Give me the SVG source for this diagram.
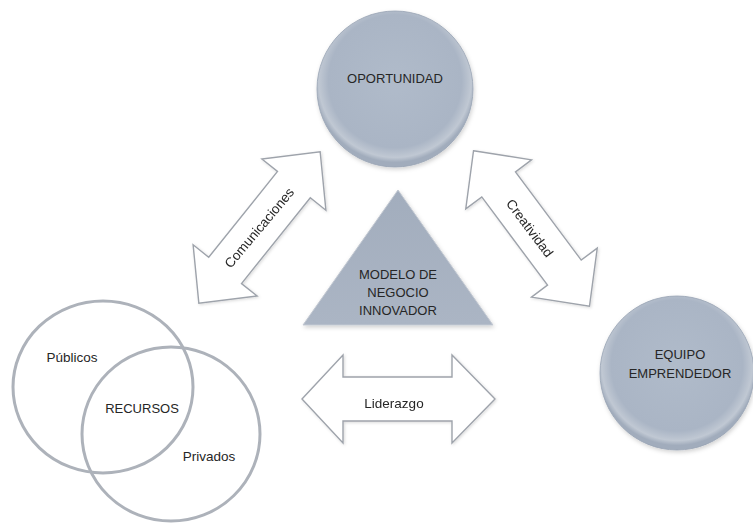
<svg xmlns="http://www.w3.org/2000/svg" width="753" height="523" viewBox="0 0 753 523">
<defs>
<radialGradient id="ball" cx="50%" cy="45%" r="52%">
<stop offset="0%" stop-color="#b0bbca"/>
<stop offset="82%" stop-color="#aab5c5"/>
<stop offset="94%" stop-color="#c0c8d3"/>
<stop offset="100%" stop-color="#a1acbc"/>
</radialGradient>
<linearGradient id="tri" x1="0" y1="0" x2="0" y2="1">
<stop offset="0%" stop-color="#a2adbd"/>
<stop offset="100%" stop-color="#abb5c4"/>
</linearGradient>
<filter id="sh" x="-20%" y="-20%" width="140%" height="140%">
<feDropShadow dx="1" dy="2" stdDeviation="2" flood-color="#000" flood-opacity="0.18"/>
</filter>
<filter id="ash" x="-20%" y="-20%" width="140%" height="140%">
<feDropShadow dx="1" dy="1" stdDeviation="1.5" flood-color="#000" flood-opacity="0.15"/>
</filter>
<polygon id="dblarrow" points="-97,0 -55,-41 -55,-21 55,-21 55,-41 97,0 55,41 55,21 -55,21 -55,41"/>
</defs>
<style>
.t{font-family:"Liberation Sans",Arial,sans-serif;fill:#262626;text-anchor:middle}
.caps{font-size:13px}
.low{font-size:13.5px}
.arrow{fill:#ffffff;stroke:#9ea3ab;stroke-width:1.4;stroke-linejoin:miter}
.ring{fill:none;stroke:#adb2ba;stroke-width:3}
.ball{fill:url(#ball);stroke:#98a3b4;stroke-width:0.8}
</style>
<rect width="753" height="523" fill="#ffffff"/>

<g id="connectors">
<g id="comunicaciones" filter="url(#ash)">
<use href="#dblarrow" class="arrow" transform="translate(259.5,227.5) rotate(-51.3)"/>
<text class="t low" transform="translate(259,227.5) rotate(-50)" y="5">Comunicaciones</text>
</g>
<g id="creatividad" filter="url(#ash)">
<use href="#dblarrow" class="arrow" transform="translate(531.5,228.5) rotate(53.3)"/>
<text class="t low" transform="translate(530,228) rotate(53.3)" y="5" font-size="14">Creatividad</text>
</g>
<g id="liderazgo" filter="url(#ash)">
<polygon class="arrow" points="302,399 343,355 343,377 452,377 452,355 495,399 452,443 452,421 343,421 343,443"/>
<text class="t low" x="394" y="408">Liderazgo</text>
</g>
</g>

<g id="oportunidad">
<circle class="ball" cx="395" cy="89" r="78" filter="url(#sh)"/>
<text class="t caps" x="395" y="83">OPORTUNIDAD</text>
</g>

<g id="equipo">
<circle class="ball" cx="677" cy="373" r="77" filter="url(#sh)"/>
<text class="t caps" x="680" y="359">EQUIPO</text>
<text class="t caps" x="680" y="378">EMPRENDEDOR</text>
</g>

<g id="modelo">
<polygon points="398,190 493,325 303,325" fill="url(#tri)" stroke="#c3c9d2" stroke-width="1" filter="url(#sh)"/>
<text class="t caps" x="398" y="279">MODELO DE</text>
<text class="t caps" x="398" y="297">NEGOCIO</text>
<text class="t caps" x="398" y="315">INNOVADOR</text>
</g>

<g id="recursos">
<ellipse class="ring" cx="103" cy="387" rx="90" ry="86"/>
<ellipse class="ring" cx="171" cy="434" rx="89" ry="87"/>
<text class="t low" x="72" y="362">Públicos</text>
<text class="t caps" x="142" y="413">RECURSOS</text>
<text class="t low" x="209" y="461">Privados</text>
</g>
</svg>
